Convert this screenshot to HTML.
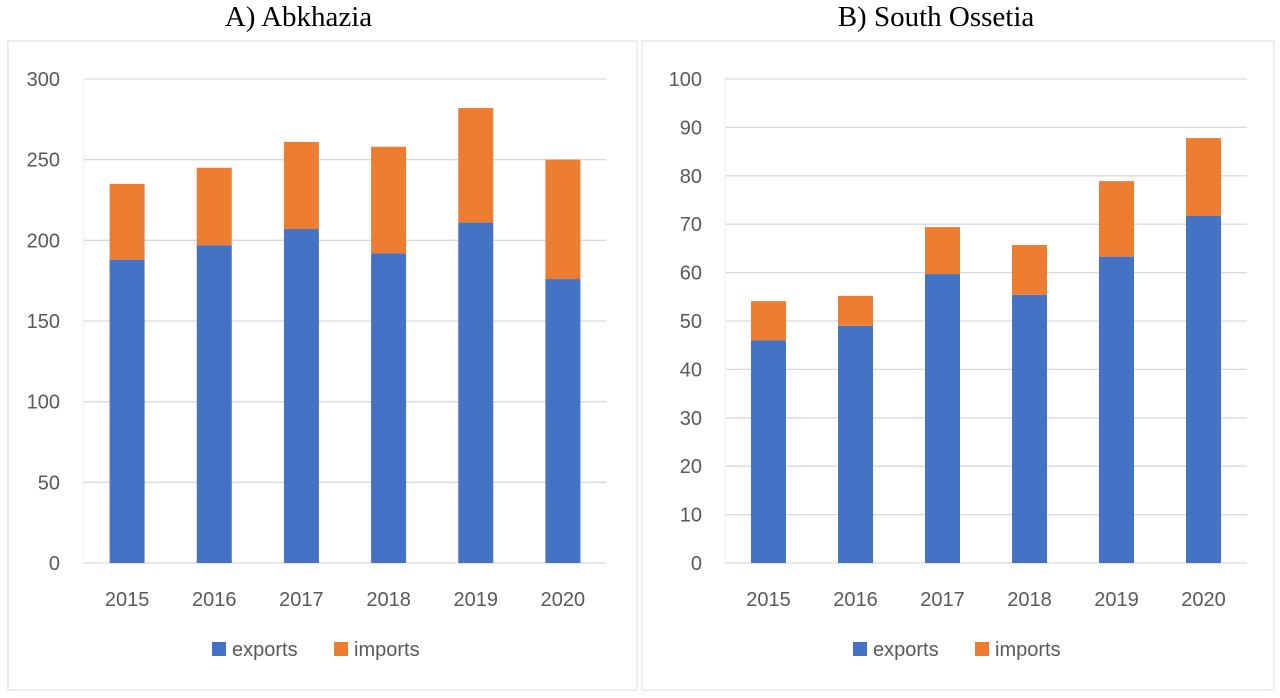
<!DOCTYPE html>
<html><head><meta charset="utf-8"><style>
body{margin:0;background:#fff;width:1280px;height:693px;overflow:hidden}
svg text{font-family:"Liberation Sans",sans-serif}
</style></head><body>
<svg id="s" width="1280" height="693" xmlns="http://www.w3.org/2000/svg"></svg>
<script>
const categories=["2015","2016","2017","2018","2019","2020"];
const abkExports=[188,197,207,192,211,176];
const abkImports=[47,48,54,66,71,74];
const abkTicks=[0,50,100,150,200,250,300];
const ossExports=[46,49,59.7,55.4,63.3,71.7];
const ossImports=[8.1,6.2,9.7,10.3,15.6,16.1];
const ossTicks=[0,10,20,30,40,50,60,70,80,90,100];
const NS="http://www.w3.org/2000/svg";
const svg=document.getElementById('s');
function mk(tag,attrs,parent){const e=document.createElementNS(NS,tag);for(const k in attrs)e.setAttribute(k,attrs[k]);(parent||svg).appendChild(e);return e;}
function panel(cfg){
  const g=mk('g',{});
  
  
  const b=mk('rect',{x:cfg.px,y:41,width:cfg.pw,height:649,fill:'none',stroke:'#e4e8f0','stroke-width':1.5},g);
  
  const t=mk('text',{x:cfg.px+cfg.pw/2-cfg.toff,y:26,'text-anchor':'middle','font-size':29,fill:'#000',style:'font-family:"Liberation Serif",serif'},g);
  t.textContent=cfg.title;
  const y0=563,y1=cfg.ytop,max=cfg.ticks[cfg.ticks.length-1];
  const ys=v=>y0-(y0-y1)*v/max;
  const left=cfg.left,right=cfg.right,cw=(right-left)/categories.length;
  cfg.ticks.forEach(v=>{
    const l=mk('line',{x1:left,x2:right,y1:ys(v),y2:ys(v),stroke:'#d9d9d9','stroke-width':1.3},g);
    
    const tx=mk('text',{x:cfg.labx,y:ys(v)+7,'text-anchor':'end','font-size':20,fill:'#595959'},g);
    tx.textContent=v;
  });
  const vb=mk('line',{x1:left,x2:left,y1:y1,y2:y0,stroke:'#eef0f5','stroke-width':1},g);
  
  categories.forEach((c,i)=>{
    const cx=left+cw*(i+0.5),bw=35;
    const e=cfg.exp[i],im=cfg.imp[i];
    const r1=mk('rect',{x:cx-bw/2,y:ys(e),width:bw,height:y0-ys(e),fill:'#4472c4'},g);
    
    const r2=mk('rect',{x:cx-bw/2,y:ys(e+im),width:bw,height:ys(e)-ys(e+im),fill:'#ed7d31'},g);
    
    const tx=mk('text',{x:cx,y:606,'text-anchor':'middle','font-size':20,fill:'#595959'},g);
    tx.textContent=c;
  });
  const lx=cfg.legx;
  const s1=mk('rect',{x:lx,y:642,width:14,height:14,fill:'#4472c4'},g);
  
  const l1=mk('text',{x:lx+20,y:656,'font-size':20,fill:'#595959'},g);
  l1.textContent='exports';
  const s2=mk('rect',{x:lx+122,y:642,width:14,height:14,fill:'#ed7d31'},g);
  
  const l2=mk('text',{x:lx+142,y:656,'font-size':20,fill:'#595959'},g);
  l2.textContent='imports';
}
panel({name:'panel-abkhazia',title:'A) Abkhazia',px:8,pw:629,toff:24,ytop:79,ticks:abkTicks,left:83.5,right:606.5,labx:60,exp:abkExports,imp:abkImports,legx:212});
panel({name:'panel-south-ossetia',title:'B) South Ossetia',px:642,pw:632,toff:22,ytop:79,ticks:ossTicks,left:725,right:1247,labx:702,exp:ossExports,imp:ossImports,legx:853});
</script>
</body></html>
